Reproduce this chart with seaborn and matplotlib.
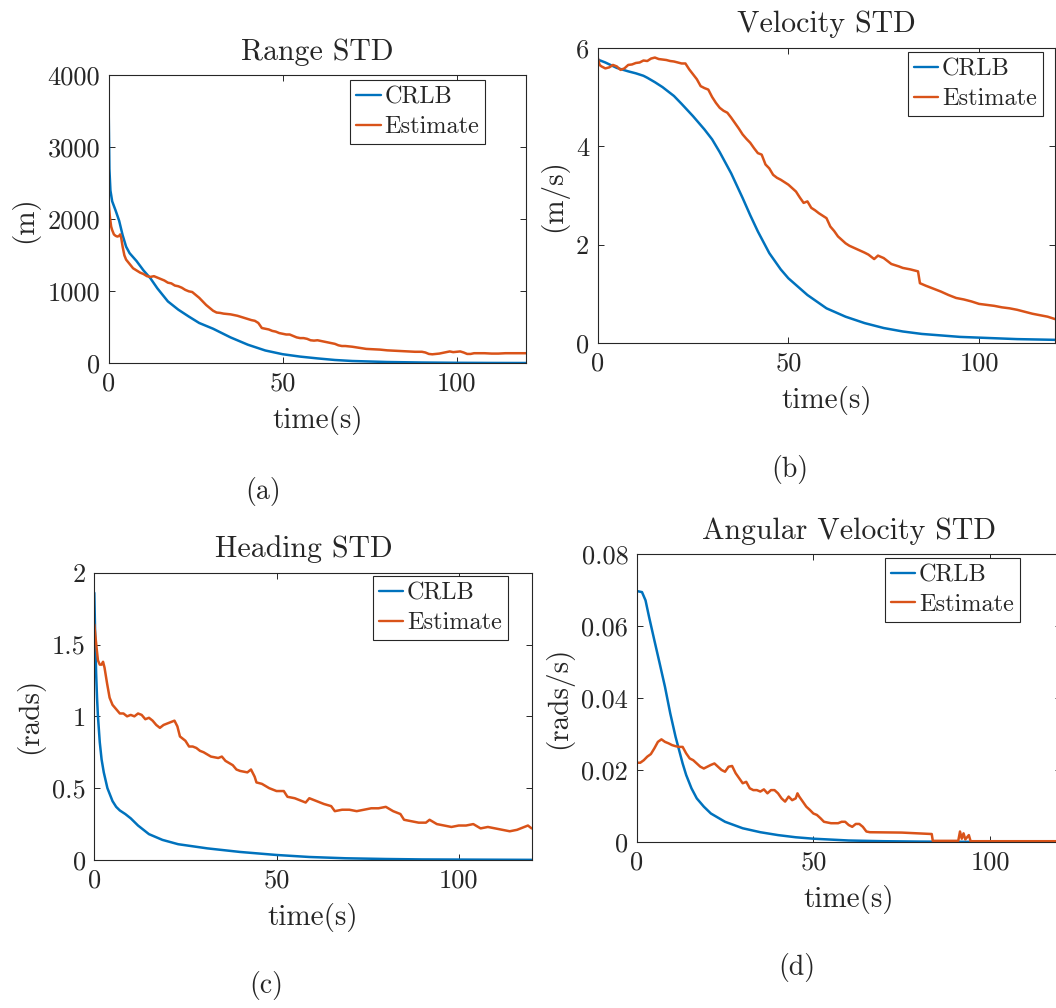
import matplotlib
matplotlib.use("Agg")
import matplotlib.pyplot as plt
import pandas as pd
import seaborn as sns
from matplotlib.lines import Line2D
from matplotlib.ticker import FixedLocator, FixedFormatter

# ---------------------------------------------------------------- data
series_names = ["CRLB", "Estimate"]
series_colors = ["#0072BD", "#D95319"]
x_ticks = [0, 50, 100]
x_tick_labels = ["0", "50", "100"]

# (a) Range STD (m)
range_crlb_t = [0, 0.2, 0.5, 1, 2, 3, 4, 5, 6, 8, 10, 12, 14, 17, 20, 23, 26, 30,
                35, 40, 45, 50, 55, 60, 65, 70, 80, 90, 100, 110, 120]
range_crlb = [3480, 2700, 2400, 2250, 2120, 1980, 1780, 1620, 1530, 1420, 1290, 1180,
              1040, 860, 745, 650, 560, 480, 360, 258, 178, 126, 93, 68, 46, 32, 18,
              11, 7, 5, 4]
range_est_t = [0, 0.3, 0.7, 1, 1.5, 2, 2.5, 3, 3.3, 3.6, 4, 4.5, 5, 6, 7, 8, 9, 10,
               11, 12, 13, 14, 15, 16, 17, 18, 19, 20, 21, 22, 23, 24, 25, 26, 27, 28,
               29, 30, 31, 32, 33, 34, 35, 36, 37, 38, 39, 40, 41, 42, 43, 44, 45, 46,
               47, 48, 49, 50, 51, 52, 53, 54, 55, 56, 57, 58, 59, 60, 61, 62, 63, 64,
               65, 66, 67, 68, 69, 70, 72, 74, 76, 78, 80, 82, 84, 86, 88, 90, 91, 92,
               93, 94, 95, 96, 97, 98, 99, 100, 101, 102, 103, 104, 105, 106, 108,
               110, 112, 114, 116, 118, 120]
range_est = [2230, 2050, 1900, 1850, 1790, 1770, 1760, 1770, 1790, 1740, 1620, 1500,
             1440, 1380, 1320, 1290, 1260, 1240, 1210, 1200, 1210, 1190, 1170, 1150,
             1120, 1110, 1080, 1070, 1050, 1020, 1000, 990, 950, 910, 860, 810, 770,
             730, 705, 700, 690, 685, 680, 670, 660, 645, 630, 615, 600, 590, 560, 490,
             480, 470, 450, 440, 420, 410, 400, 400, 380, 360, 350, 350, 340, 320, 315,
             320, 310, 300, 290, 280, 270, 250, 240, 240, 235, 230, 215, 200, 195, 190,
             180, 175, 170, 165, 160, 160, 150, 130, 125, 130, 135, 145, 155, 165, 155,
             160, 165, 150, 130, 130, 140, 140, 140, 135, 135, 140, 140, 140, 140]

# (b) Velocity STD (m/s)
vel_crlb_t = [0, 2, 5, 8, 10, 12, 13, 15, 17, 20, 22, 25, 28, 30, 32, 35, 38, 40, 42,
              45, 48, 50, 55, 60, 65, 70, 75, 80, 85, 90, 95, 100, 110, 120]
vel_crlb = [5.76, 5.70, 5.59, 5.52, 5.48, 5.43, 5.39, 5.30, 5.20, 5.02, 4.86, 4.61,
            4.34, 4.14, 3.88, 3.45, 2.95, 2.60, 2.27, 1.83, 1.50, 1.32, 0.98, 0.71,
            0.54, 0.41, 0.31, 0.24, 0.19, 0.16, 0.13, 0.115, 0.085, 0.07]
vel_est_t = [0, 0.5, 1, 2, 3, 4, 5, 6, 7, 8, 9, 10, 11, 12, 13, 14, 15, 16, 17, 18, 19,
             20, 21, 22, 23, 24, 25, 26, 27, 28, 29, 30, 31, 32, 33, 34, 35, 36, 37,
             38, 39, 40, 41, 42, 43, 44, 45, 46, 47, 48, 49, 50, 51, 52, 53, 54, 55,
             56, 57, 58, 59, 60, 61, 62, 63, 64, 65, 66, 68, 70, 71, 72.5, 73.5, 75,
             77, 79, 80, 82, 83, 84, 84.5, 86, 87, 88, 90, 92, 94, 96, 98, 100, 102,
             104, 106, 108, 110, 112, 114, 116, 118, 120]
vel_est = [5.80, 5.65, 5.62, 5.58, 5.60, 5.65, 5.62, 5.55, 5.58, 5.65, 5.66, 5.69,
           5.70, 5.74, 5.73, 5.78, 5.80, 5.77, 5.76, 5.75, 5.73, 5.72, 5.70, 5.68, 5.68,
           5.56, 5.46, 5.36, 5.22, 5.18, 5.15, 5.00, 4.88, 4.78, 4.72, 4.68, 4.58, 4.47,
           4.36, 4.24, 4.15, 4.07, 3.96, 3.86, 3.83, 3.63, 3.55, 3.42, 3.36, 3.32, 3.27,
           3.22, 3.15, 3.08, 2.96, 2.85, 2.88, 2.75, 2.70, 2.64, 2.59, 2.54, 2.37, 2.28,
           2.17, 2.10, 2.03, 1.98, 1.91, 1.84, 1.80, 1.71, 1.78, 1.73, 1.61, 1.56, 1.53,
           1.50, 1.48, 1.46, 1.22, 1.17, 1.14, 1.11, 1.05, 0.98, 0.92, 0.89, 0.85, 0.80,
           0.78, 0.76, 0.73, 0.71, 0.68, 0.64, 0.60, 0.57, 0.54, 0.49]

# (c) Heading STD (rads)
head_crlb_t = [0, 0.25, 0.5, 0.75, 1, 1.5, 2, 2.6, 3.6, 5, 6, 7, 8.5, 10, 12, 15, 18.7,
               23, 31, 40, 50, 59, 69, 80, 90, 100, 120]
head_crlb = [1.86, 1.55, 1.30, 1.13, 1.00, 0.82, 0.70, 0.61, 0.50, 0.41, 0.37, 0.345,
             0.32, 0.29, 0.24, 0.18, 0.14, 0.11, 0.081, 0.056, 0.035, 0.021, 0.012,
             0.007, 0.004, 0.003, 0.001]
head_est_t = [0, 0.3, 0.7, 1, 1.5, 2, 2.4, 2.8, 3.5, 4.2, 5, 6, 7, 8, 9, 10, 11, 12, 13,
              14, 15, 16, 17, 18, 19, 20, 21, 22, 22.8, 23.5, 25, 26, 27, 28, 29, 30,
              32, 34, 35, 36, 38, 39, 40, 42, 43, 44, 44.5, 46, 48, 50, 52, 53, 55, 57,
              58, 59, 61, 63, 65, 66, 68, 70, 72, 74, 76, 78, 80, 82, 84, 85, 87, 89,
              91, 92, 94, 96, 98, 100, 102, 104, 106, 108, 110, 112, 114, 116, 118,
              119, 120]
head_est = [1.64, 1.56, 1.46, 1.39, 1.36, 1.36, 1.38, 1.34, 1.23, 1.13, 1.08, 1.05,
            1.02, 1.02, 1.00, 1.01, 1.00, 1.02, 1.01, 0.98, 0.99, 0.97, 0.94, 0.92,
            0.94, 0.95, 0.96, 0.97, 0.93, 0.86, 0.83, 0.79, 0.79, 0.78, 0.76, 0.75,
            0.72, 0.71, 0.72, 0.69, 0.66, 0.63, 0.62, 0.61, 0.63, 0.58, 0.54, 0.53,
            0.50, 0.48, 0.48, 0.44, 0.43, 0.41, 0.40, 0.43, 0.41, 0.39, 0.375, 0.34,
            0.35, 0.35, 0.34, 0.35, 0.36, 0.36, 0.37, 0.34, 0.32, 0.28, 0.27, 0.26,
            0.26, 0.28, 0.25, 0.24, 0.23, 0.24, 0.24, 0.25, 0.22, 0.23, 0.22, 0.21,
            0.20, 0.21, 0.23, 0.24, 0.22]

# (d) Angular Velocity STD (rads/s)
ang_crlb_t = [0, 1.5, 2.5, 3.5, 5, 6.5, 8, 9.5, 11, 12, 13, 14, 15.5, 17, 19, 21, 25,
              30, 35, 40, 45, 50, 60, 70, 80, 100, 120]
ang_crlb = [0.0698, 0.0695, 0.0672, 0.0626, 0.0561, 0.0497, 0.0432, 0.0358, 0.0293,
            0.0256, 0.0219, 0.0187, 0.0150, 0.0122, 0.0099, 0.0080, 0.0057, 0.0039,
            0.0028, 0.0020, 0.0014, 0.0010, 0.0005, 0.0003, 0.0002, 0.0001, 0.0001]
ang_est_t = [0, 1, 2, 3, 4, 5, 6, 7, 8, 9, 10, 11, 12, 13, 14, 15, 16, 17, 18, 19, 20,
             21, 22, 23, 24, 25, 26, 27, 28, 29, 30, 31, 32, 33, 34, 35, 36, 37, 38,
             39, 40, 41, 42, 43, 44, 45, 45.5, 46, 47, 48, 49, 50, 51, 52, 53, 55, 57,
             58, 59, 60, 61, 62, 63, 64, 65, 66, 75, 83.5, 83.8, 90, 91, 91.5, 92,
             92.5, 93, 94, 94.5, 100, 120]
ang_est = [0.0221, 0.0221, 0.0228, 0.0238, 0.0245, 0.0261, 0.0279, 0.0286, 0.0279,
           0.0275, 0.0270, 0.0267, 0.0265, 0.0265, 0.0247, 0.0233, 0.0228, 0.0219,
           0.0210, 0.0205, 0.0210, 0.0215, 0.0219, 0.0210, 0.0201, 0.0196, 0.0210,
           0.0212, 0.0192, 0.0178, 0.0164, 0.0168, 0.0150, 0.0145, 0.0145, 0.0141,
           0.0147, 0.0136, 0.0145, 0.0145, 0.0136, 0.0122, 0.0113, 0.0127, 0.0117,
           0.0122, 0.0136, 0.0127, 0.0113, 0.0099, 0.0090, 0.0080, 0.0076, 0.0067,
           0.0057, 0.0053, 0.0053, 0.0057, 0.0057, 0.0048, 0.0043, 0.0051, 0.0051,
           0.0043, 0.0030, 0.0028, 0.0027, 0.0023, 0.0004, 0.0004, 0.0004, 0.0030,
           0.0010, 0.0025, 0.0008, 0.0020, 0.0003, 0.0003, 0.0003]

panels = [
    dict(title="Range STD", ylabel="(m)", caption="(a)",
         crlb=(range_crlb_t, range_crlb), est=(range_est_t, range_est),
         ylim=(0, 4000), yticks=[0, 1000, 2000, 3000, 4000],
         yticklabels=["0", "1000", "2000", "3000", "4000"]),
    dict(title="Velocity STD", ylabel="(m/s)", caption="(b)",
         crlb=(vel_crlb_t, vel_crlb), est=(vel_est_t, vel_est),
         ylim=(0, 6), yticks=[0, 2, 4, 6], yticklabels=["0", "2", "4", "6"]),
    dict(title="Heading STD", ylabel="(rads)", caption="(c)",
         crlb=(head_crlb_t, head_crlb), est=(head_est_t, head_est),
         ylim=(0, 2), yticks=[0, 0.5, 1, 1.5, 2],
         yticklabels=["0", "0.5", "1", "1.5", "2"]),
    dict(title="Angular Velocity STD", ylabel="(rads/s)", caption="(d)",
         crlb=(ang_crlb_t, ang_crlb), est=(ang_est_t, ang_est),
         ylim=(0, 0.08), yticks=[0, 0.02, 0.04, 0.06, 0.08],
         yticklabels=["0", "0.02", "0.04", "0.06", "0.08"]),
]

# ---------------------------------------------------------------- layout
W, H = 1056, 1008
# axes boxes in pixels: left, top, right, bottom
boxes = [(108.7, 75.3, 526.3, 363.3),
         (597.7, 47.7, 1055.3, 343.3),
         (94.3, 572.7, 531.6, 860.0),
         (636.7, 554.3, 1060.7, 842.3)]
legend_anchor = [(0.902, 0.982), (0.973, 0.984), (0.946, 0.987), (0.904, 0.986)]
caption_xy = [(263, 492), (790, 469), (266, 986), (797, 968)]
title_x = [0.5, 0.5, 0.48, 0.5]

sns.set_style("ticks")
plt.rcParams.update({
    "font.family": ["cmr10"],
    "mathtext.fontset": "cm",
    "axes.formatter.use_mathtext": True,
    "axes.unicode_minus": False,
    "text.color": "#262626",
    "axes.labelcolor": "#262626",
    "xtick.color": "#262626",
    "ytick.color": "#262626",
    "axes.edgecolor": "#262626",
})

fig = plt.figure(figsize=(W / 100, H / 100), dpi=100)
fig.patch.set_facecolor("white")

handles = [Line2D([], [], color=c, lw=1.7) for c in series_colors]

for p, (l, t, r, b), anchor, cap, tx in zip(panels, boxes, legend_anchor,
                                             caption_xy, title_x):
    ax = fig.add_axes([l / W, 1 - b / H, (r - l) / W, (b - t) / H])
    df = pd.concat([
        pd.DataFrame({"time": p["crlb"][0], "value": p["crlb"][1], "series": series_names[0]}),
        pd.DataFrame({"time": p["est"][0], "value": p["est"][1], "series": series_names[1]}),
    ], ignore_index=True)
    sns.lineplot(data=df, x="time", y="value", hue="series", hue_order=series_names,
                 palette=series_colors, estimator=None, linewidth=1.8,
                 legend=False, ax=ax)
    ax.set_xlim(0, 120)
    ax.set_ylim(*p["ylim"])
    ax.xaxis.set_major_locator(FixedLocator(x_ticks))
    ax.xaxis.set_major_formatter(FixedFormatter(x_tick_labels))
    ax.yaxis.set_major_locator(FixedLocator(p["yticks"]))
    ax.yaxis.set_major_formatter(FixedFormatter(p["yticklabels"]))
    ax.tick_params(direction="in", top=True, right=True, length=4, width=0.7,
                   labelsize=19, pad=6)
    for s in ax.spines.values():
        s.set_linewidth(0.8)
        s.set_visible(True)
    ax.set_xlabel("time(s)", fontsize=21, labelpad=8)
    ax.set_ylabel(p["ylabel"], fontsize=21, labelpad=6)
    ax.set_title(p["title"], fontsize=21.5, pad=11, x=tx)
    leg = ax.legend(handles, series_names, loc="upper right", bbox_to_anchor=anchor,
                    borderaxespad=0, fontsize=17.5, frameon=True, fancybox=False,
                    handlelength=1.0, handletextpad=0.15, borderpad=0.25,
                    labelspacing=0.3, edgecolor="#262626", framealpha=1)
    leg.get_frame().set_linewidth(0.8)
    fig.text(cap[0] / W, 1 - cap[1] / H, p["caption"], fontsize=20,
             ha="center", va="center")

fig.savefig("out.png", dpi=100, facecolor="white")
